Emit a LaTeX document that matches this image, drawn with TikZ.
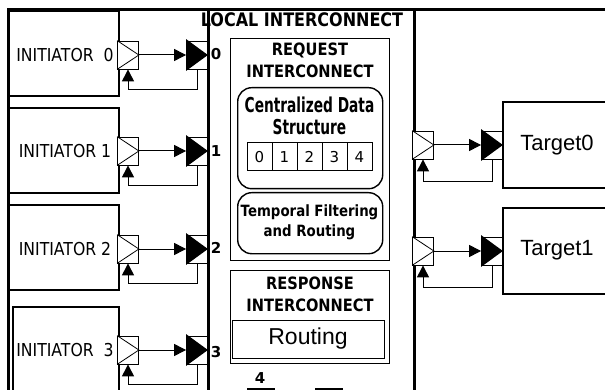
\documentclass[tikz,border=0pt]{standalone}
\usepackage{fontspec}
\usetikzlibrary{arrows.meta,calc}
\newfontfamily\dvfont{DejaVu Sans}
\newfontfamily\dvnar{DejaVu Sans}[FakeStretch=0.88]
\newfontfamily\dvbold{DejaVu Sans}[FakeStretch=0.86]
\newfontfamily\dvcond{DejaVu Sans}[FakeStretch=0.67]
\newfontfamily\arfont{Liberation Sans}
\begin{document}
\begin{tikzpicture}[x=1pt,y=-1pt,
  heavybox/.style={draw, line width=2pt, inner sep=0pt, anchor=north west},
  thinbox/.style={draw, line width=1.4pt, inner sep=0pt, anchor=north west},
  rbox/.style={draw, line width=1.4pt, inner sep=0pt, anchor=north west, rounded corners=14pt},
  portbox/.style={draw, line width=0.8pt, minimum width=21pt, minimum height=28pt, inner sep=0pt, fill=white},
  cell/.style={draw, line width=1pt, minimum width=25pt, minimum height=28pt, inner sep=0pt, font=\dvfont\fontsize{15}{16}\selectfont},
  tip/.style={-{Triangle[length=12pt,width=12pt]}, line width=1pt},
  inittext/.style={font=\dvnar\fontsize{17.8}{18}\selectfont},
  boldtext/.style={font=\dvbold\bfseries\fontsize{17}{22}\selectfont, align=center},
  numtext/.style={font=\dvfont\bfseries\fontsize{15}{18}\selectfont},
  tgttext/.style={font=\arfont\fontsize{22}{26}\selectfont}
]
\useasboundingbox (0,0) rectangle (605,390);
\clip (0,0) rectangle (605,390);
\fill[white] (0,0) rectangle (605,390);

% frame
\draw[line width=3pt] (8,392) -- (8,9.5) -- (607,9.5);

% local interconnect
\node[draw, line width=2.5pt, inner sep=0pt, anchor=north west, minimum width=206pt, minimum height=385pt] (li) at (207,8) {};
\node[font=\dvbold\bfseries\fontsize{18.6}{20}\selectfont] (lit) at (302,20) {LOCAL INTERCONNECT};

% request interconnect
\node[thinbox, minimum width=159pt, minimum height=222pt] (req) at (230,38) {};
\node[boldtext] (reqt) at (310,60) {REQUEST\\INTERCONNECT};
\node[rbox, minimum width=145pt, minimum height=101pt] (cds) at (237,87) {};
\node[font=\dvcond\bfseries\fontsize{20.5}{22}\selectfont, align=center] (cdst) at (309.5,116) {Centralized Data\\Structure};
\foreach \k in {0,...,4}{
  \node[cell] (c\k) at ({259.5+25*\k},157) {\k};
}
\node[rbox, minimum width=145pt, minimum height=61pt] (tfr) at (237,192) {};
\node[font=\dvbold\bfseries\fontsize{15.5}{20}\selectfont, align=center] (tfrt) at (309.5,222.5) {Temporal Filtering\\and Routing};

% response interconnect
\node[thinbox, minimum width=159pt, minimum height=93pt] (resp) at (230,270) {};
\node[boldtext] (respt) at (310,294) {RESPONSE\\INTERCONNECT};
\node[thinbox, minimum width=152pt, minimum height=38pt] (rout) at (232,320) {};
\node[font=\arfont\fontsize{23}{26}\selectfont] (routt) at (308,339) {Routing};

% port numbers
\node[numtext] (n0) at (216,54) {0};
\node[numtext] (n1) at (216,151) {1};
\node[numtext] (n2) at (216,248) {2};
\node[numtext] (n3) at (216,352) {3};
\node[numtext] (n4) at (260,378) {4};
\draw[line width=3pt] (247,389) -- (275,389);
\draw[line width=3pt] (315,389) -- (343,389);

% initiators
\node[heavybox, minimum width=110pt, minimum height=85pt] (i0) at (8,10) {};
\node[heavybox, minimum width=110pt, minimum height=85pt] (i1) at (8,107) {};
\node[heavybox, minimum width=110pt, minimum height=85pt] (i2) at (8,204) {};
\node[heavybox, minimum width=106pt, minimum height=95pt] (i3) at (12,306) {};
\node[inittext] (it0) at (65,55) {INITIATOR\ \ 0};
\node[inittext] (it1) at (65,151) {INITIATOR 1};
\node[inittext] (it2) at (65,249) {INITIATOR 2};
\node[inittext] (it3) at (65,350) {INITIATOR\ \ 3};

\foreach \k/\y in {0/55,1/151,2/249,3/350}{
  \node[portbox] (ip\k) at (128,\y) {};
  \draw[line width=0.8pt] (ip\k.north west) -- (ip\k.east) -- (ip\k.south west);
  \node[portbox] (ib\k) at (197,\y) {};
  \fill ($(ib\k.north west)+(0,-1.5)$) -- (ib\k.east) -- ($(ib\k.south west)+(0,1.5)$) -- cycle;
  \draw[tip] (ip\k.east) -- (ib\k.west);
  \draw[tip] (ib\k.south) -- ++(0,20) -| (ip\k.south);
}

% targets
\node[heavybox, minimum width=120pt, minimum height=86pt] (t0) at (502,101) {};
\node[heavybox, minimum width=120pt, minimum height=86pt] (t1) at (502,207) {};
\node[tgttext] (tt0) at (557,145) {Target0};
\node[tgttext] (tt1) at (557,250) {Target1};
\foreach \k/\y in {0/145,1/251}{
  \node[portbox] (tp\k) at (423,\y) {};
  \draw[line width=0.8pt] (tp\k.north west) -- (tp\k.east) -- (tp\k.south west);
  \node[portbox] (tb\k) at (492,\y) {};
  \fill ($(tb\k.north west)+(0,-1.5)$) -- (tb\k.east) -- ($(tb\k.south west)+(0,1.5)$) -- cycle;
  \draw[tip] (tp\k.east) -- (tb\k.west);
  \draw[tip] (tb\k.south) -- ++(0,22) -| (tp\k.south);
}
\end{tikzpicture}
\end{document}
